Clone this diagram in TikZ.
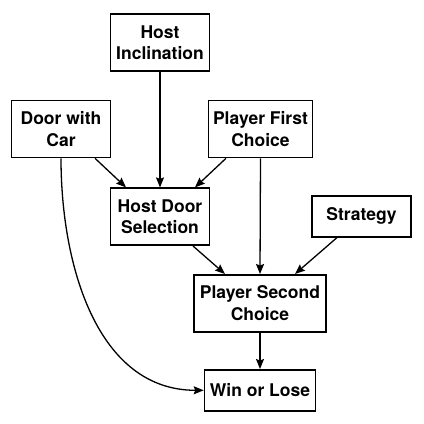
\documentclass[tikz,border=0pt]{standalone}
\usepackage{fontspec}
\setmainfont{TeX Gyre Heros}
\usetikzlibrary{arrows.meta}

\begin{document}
\begin{tikzpicture}[
    x=1pt,
    y=-1pt,
    every node/.style={align=center},
    varbox/.style={
      draw=black,
      fill=white,
      line width=1.6pt,
      inner sep=0pt,
      minimum width=99pt,
      minimum height=57pt,
      font=\fontsize{17.5}{21.5}\selectfont\bfseries
    },
    flow/.style={-{Stealth[length=10pt,width=8pt,inset=1.5pt]}, line width=1.3pt}
  ]
    \useasboundingbox (0,0) rectangle (424,424);

    % Top row
    \node[varbox] (hi) at (160,42.5) {Host\\Inclination};
    \node[varbox] (dwc) at (61,129) {Door with\\Car};
    \node[varbox, minimum width=104pt] (pfc) at (260.5,129) {Player First\\Choice};

    % Middle row
    \node[varbox] (hds) at (160,216.7) {Host Door\\Selection};
    \node[varbox, minimum height=41pt] (strat) at (361.5,216.3) {Strategy};

    % Bottom
    \node[varbox, minimum width=132pt] (psc) at (260,303.3) {Player Second\\Choice};
    \node[varbox, minimum width=111pt, minimum height=41pt] (wol) at (260,390.3) {Win or Lose};

    % Into the host's choice
    \draw[flow] ([xshift=34pt]dwc.south) -- ([xshift=-34pt]hds.north);
    \draw[flow] (hi.south) -- (hds.north);
    \draw[flow] ([xshift=-34.5pt]pfc.south) -- ([xshift=35pt]hds.north);

    % Into the player's second choice
    \draw[flow] ([xshift=33pt]hds.south) -- ([xshift=-35pt]psc.north);
    \draw[flow] (pfc.south) -- (psc.north);
    \draw[flow] ([xshift=-24.5pt]strat.south) -- ([xshift=35pt]psc.north);

    % Outcome
    \draw[flow] (psc.south) -- (wol.north);
    \draw[flow] (dwc.south) to[out=-90, in=180] (wol.west);
  \end{tikzpicture}
\end{document}
